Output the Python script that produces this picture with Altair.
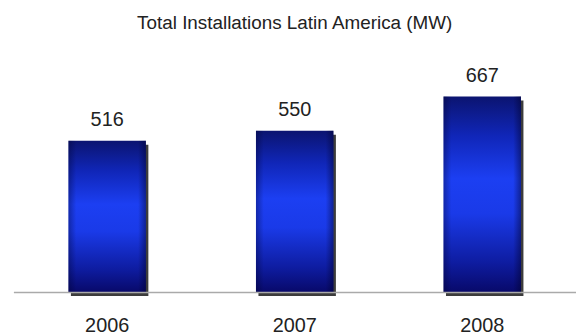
import altair as alt
import pandas as pd

years = ["2006", "2007", "2008"]
values = [516, 550, 667]
title_text = "Total Installations Latin America (MW)"

df = pd.DataFrame({"year": years, "value": values})

FONT = "Liberation Sans"

x = alt.X("year:N", sort=years, title=None,
          scale=alt.Scale(paddingInner=0.587, paddingOuter=0.2935),
          axis=alt.Axis(labelAngle=0, labelFontSize=20, labelFont=FONT,
                        labelColor="#222222", ticks=False, tickSize=0,
                        labelPadding=23.5, domainColor="#aaaaaa",
                        domainWidth=1.5, grid=False, zindex=1))
y = alt.Y("value:Q", scale=alt.Scale(domain=[0, 856]), axis=None)

base = alt.Chart(df).encode(x=x, y=y)

shadow = base.mark_bar(color="#1a1a1a", opacity=0.85, xOffset=2.5,
                       yOffset=4, y2Offset=-4)

vgrad = alt.Gradient(
    gradient="linear", x1=0, x2=0, y1=0, y2=1,
    stops=[
        alt.GradientStop(offset=0, color="#0b1470"),
        alt.GradientStop(offset=0.2, color="#1026b8"),
        alt.GradientStop(offset=0.42, color="#1c3ff2"),
        alt.GradientStop(offset=0.6, color="#1a3ae8"),
        alt.GradientStop(offset=0.85, color="#0e1ca0"),
        alt.GradientStop(offset=1, color="#08096a"),
    ],
)
bars = base.mark_bar(color=vgrad)

hgrad = alt.Gradient(
    gradient="linear", x1=0, x2=1, y1=0, y2=0,
    stops=[
        alt.GradientStop(offset=0, color="rgba(0,0,40,0.35)"),
        alt.GradientStop(offset=0.1, color="rgba(0,0,40,0)"),
        alt.GradientStop(offset=0.9, color="rgba(0,0,40,0)"),
        alt.GradientStop(offset=1, color="rgba(0,0,40,0.45)"),
    ],
)
edges = base.mark_bar(color=hgrad)

labels = base.mark_text(fontSize=20, font=FONT, color="#222222",
                        baseline="alphabetic", dy=-14.5).encode(
    text=alt.Text("value:Q"))

chart = (shadow + bars + edges + labels).properties(
    width=567, height=253,
    title=alt.TitleParams(title_text, fontSize=19, font=FONT, fontWeight="normal",
                          color="#222222", anchor="middle", baseline="alphabetic",
                          offset=14, dy=21),
    autosize=alt.AutoSizeParams(type="none"),
    padding={"left": 13.5, "top": 40, "right": 0, "bottom": 43},
    background="white",
).configure_view(strokeWidth=0, stroke=None)

chart.save("out.html", embed_options={"renderer": "svg", "actions": False})
